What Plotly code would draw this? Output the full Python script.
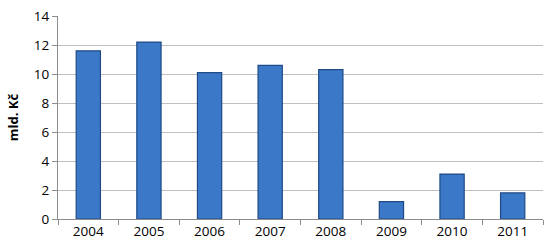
import plotly.graph_objects as go

years = ["2004", "2005", "2006", "2007", "2008", "2009", "2010", "2011"]
values = [11.6, 12.2, 10.1, 10.6, 10.3, 1.2, 3.1, 1.8]
y_ticks = [0, 2, 4, 6, 8, 10, 12, 14]

fig = go.Figure(go.Bar(
    x=years, y=values,
    marker=dict(color="#3b78c8", line=dict(color="#1f4a85", width=1.2)),
))

fig.update_layout(
    width=550, height=250,
    margin=dict(l=58, r=7, t=13, b=31),
    paper_bgcolor="white", plot_bgcolor="white",
    bargap=0.6,
    showlegend=False,
    font=dict(family="Open Sans", size=13, color="#000000"),
)
fig.update_xaxes(
    showline=True, linecolor="#8c8c8c", linewidth=1,
    ticks="outside", tickson="boundaries", ticklen=5, tickcolor="#8c8c8c",
    showgrid=False, tickfont=dict(size=13.5),
)
fig.update_yaxes(
    range=[0, 14], tickvals=y_ticks,
    showline=True, linecolor="#8c8c8c", linewidth=1,
    ticks="outside", ticklen=5, tickcolor="#8c8c8c",
    showgrid=True, gridcolor="#bfbfbf", gridwidth=1,
    zeroline=False,
    title=dict(text="<b>mld. Kč</b>", font=dict(size=13), standoff=12),
    tickfont=dict(size=13.5),
)

fig.write_html("out.html")
